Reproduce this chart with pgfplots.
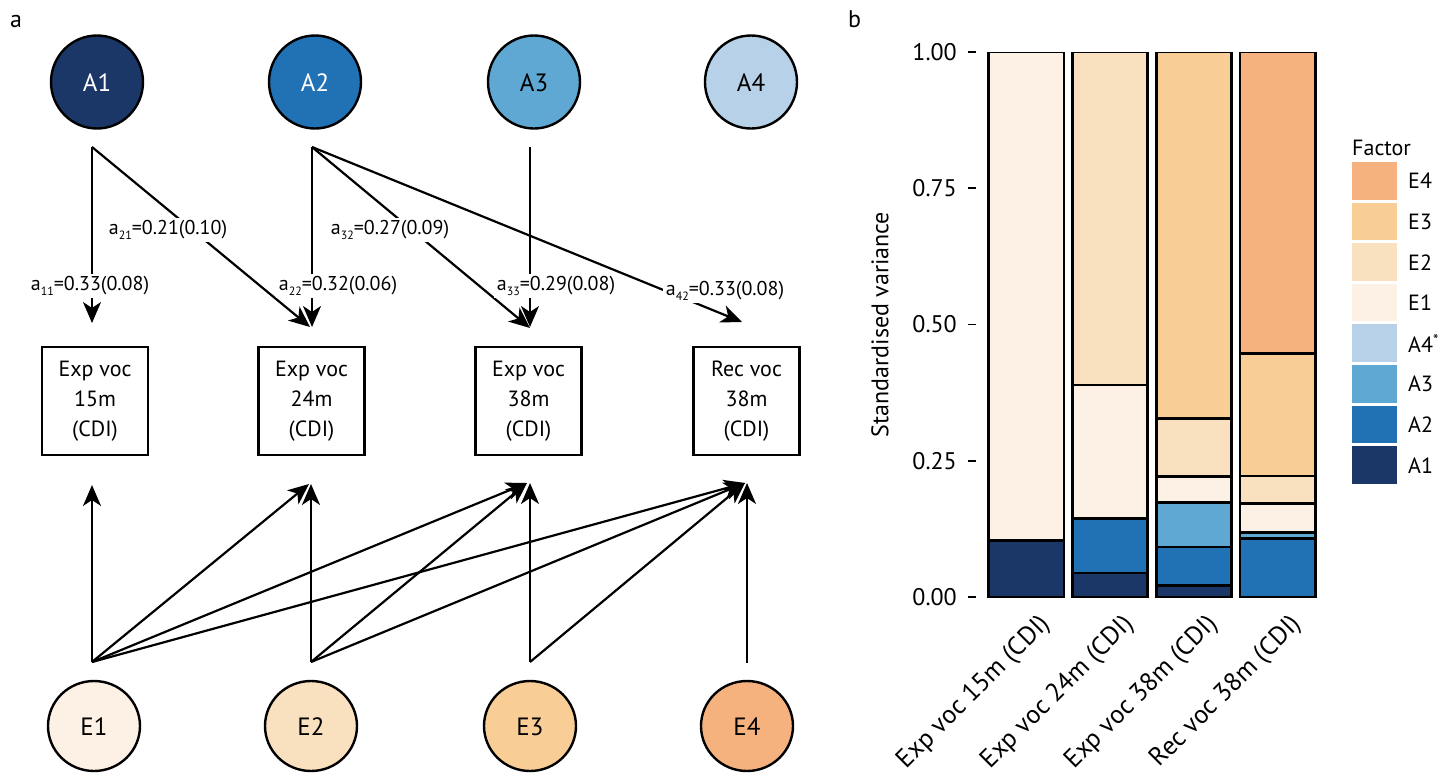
\documentclass[border=0pt]{standalone}
\usepackage{fontspec}
\setmainfont{PT Sans}
\usepackage{pgfplots}
\pgfplotsset{compat=1.18}
\usepackage{pgfplotstable}
\usetikzlibrary{arrows.meta}

\definecolor{cA1}{HTML}{1B3768}
\definecolor{cA2}{HTML}{2171B5}
\definecolor{cA3}{HTML}{5FA8D3}
\definecolor{cA4}{HTML}{B7D2E8}
\definecolor{cE1}{HTML}{FDF0E4}
\definecolor{cE2}{HTML}{F9E1BF}
\definecolor{cE3}{HTML}{F8CD96}
\definecolor{cE4}{HTML}{F5B27E}

\pgfplotstableread{
x A1 A2 A3 A4 E1 E2 E3 E4
0 0.104 0 0 0 0.896 0 0 0
1 0.044 0.100 0 0 0.245 0.611 0 0
2 0.021 0.071 0.081 0 0.048 0.107 0.672 0
3 0 0.107 0.011 0 0.054 0.050 0.225 0.553
}\datatable

\newcommand\sub[1]{\raisebox{-0.45ex}{\fontsize{12}{12}\selectfont#1}}

\begin{document}
\begin{tikzpicture}
\useasboundingbox (0,0) rectangle (1441pt,-772pt);
\begin{scope}[x=1pt,y=-1pt]
  % panel labels
  \node[anchor=base west, inner sep=0pt, font=\fontsize{24}{24}\selectfont] at (10,27) {a};
  \node[anchor=base west, inner sep=0pt, font=\fontsize{24}{24}\selectfont] at (848,27) {b};
  % top ellipses
  \foreach \cx/\col/\txt/\tc in {97/cA1/A1/white, 315/cA2/A2/white, 534/cA3/A3/black, 751/cA4/A4/black} {
    \draw[fill=\col, line width=2.4pt] (\cx,82) ellipse [x radius=46, y radius=46.5];
    \node[text=\tc, font=\fontsize{25}{25}\selectfont] at (\cx,83) {\txt};
  }
  % bottom ellipses
  \foreach \cx/\col/\txt in {94/cE1/E1, 311/cE2/E2, 530/cE3/E3, 747/cE4/E4} {
    \draw[fill=\col, line width=2.4pt] (\cx,726) ellipse [x radius=46, y radius=45];
    \node[font=\fontsize{25}{25}\selectfont] at (\cx,727) {\txt};
  }
  % boxes
  \foreach \cx/\a/\b in {95/Exp voc/15m, 311.5/Exp voc/24m, 528.5/Exp voc/38m, 746.5/Rec voc/38m} {
    \node[draw, line width=2.4pt, minimum width=106pt, minimum height=108pt, inner sep=0pt,
          align=center, font=\fontsize{22}{30}\selectfont] at (\cx,401) {\a\\\b\\(CDI)};
  }
  % top arrows
  \begin{scope}[line width=2.2pt, -{Stealth[length=21pt,width=18pt,inset=6pt]}]
    \draw (92,147) -- (92,323);
    \draw (92,147) -- (310,327);
    \draw (312,147) -- (312,327);
    \draw (312,147) -- (530,328);
    \draw (312,147) -- (742,322);
    \draw (530,147) -- (530,327);
  \end{scope}
  % bottom arrows
  \begin{scope}[line width=2.2pt, -{Stealth[length=21pt,width=18pt,inset=6pt]}]
    \draw (92,662) -- (92,485);
    \draw (92,662) -- (309,484);
    \draw (92,662) -- (527,483);
    \draw (92,662) -- (745,483);
    \draw (311,662) -- (311,484);
    \draw (311,662) -- (527,483);
    \draw (311,662) -- (745,483);
    \draw (530,662) -- (530,483);
    \draw (530,662) -- (745,483);
    \draw (747,663) -- (747,483);
  \end{scope}
  % path labels
  \begin{scope}[every node/.style={fill=white, inner sep=2.5pt, font=\fontsize{20}{20}\selectfont}]
    \node at (90,286) {a\sub{11}=0.33(0.08)};
    \node at (168,230) {a\sub{21}=0.21(0.10)};
    \node at (338,286) {a\sub{22}=0.32(0.06)};
    \node at (390,230) {a\sub{32}=0.27(0.09)};
    \node at (556,286) {a\sub{33}=0.29(0.08)};
    \node at (725,291) {a\sub{42}=0.33(0.08)};
  \end{scope}
\end{scope}

\begin{axis}[
  at={(976pt,-597pt)}, anchor=south west,
  scale only axis, width=352pt, height=545pt,
  xmin=-0.6, xmax=3.6, ymin=0, ymax=1, enlargelimits=false,
  ybar stacked, bar width=0.9,
  axis line style={draw=none},
  xtick={0,1,2,3},
  xticklabels={Exp voc 15m (CDI), Exp voc 24m (CDI), Exp voc 38m (CDI), Rec voc 38m (CDI)},
  xtick style={draw=none},
  ytick={0,0.25,0.5,0.75,1},
  yticklabels={0.00,0.25,0.50,0.75,1.00},
  ytick pos=left, tick align=outside, major tick length=8pt,
  ytick style={line width=1.8pt, black},
  /pgf/number format/assume math mode=true,
  yticklabel style={font=\fontsize{24}{24}\selectfont, inner sep=0pt, xshift=-11pt},
  xticklabel style={font=\fontsize{26}{26}\selectfont, rotate=45, anchor=north east, inner sep=0pt, yshift=-13pt, xshift=3pt},
  ylabel={Standardised variance},
  every axis y label/.style={at={(rel axis cs:-0.273,0.5)}, rotate=90, anchor=center, font=\fontsize{24}{24}\selectfont},
]
\addplot[fill=cA1, draw=black, line width=2.7pt] table[x=x, y=A1] {\datatable};
\addplot[fill=cA2, draw=black, line width=2.7pt] table[x=x, y=A2] {\datatable};
\addplot[fill=cA3, draw=black, line width=2.7pt] table[x=x, y=A3] {\datatable};
\addplot[fill=cA4, draw=black, line width=2.7pt] table[x=x, y=A4] {\datatable};
\addplot[fill=cE1, draw=black, line width=2.7pt] table[x=x, y=E1] {\datatable};
\addplot[fill=cE2, draw=black, line width=2.7pt] table[x=x, y=E2] {\datatable};
\addplot[fill=cE3, draw=black, line width=2.7pt] table[x=x, y=E3] {\datatable};
\addplot[fill=cE4, draw=black, line width=2.7pt] table[x=x, y=E4] {\datatable};
\end{axis}

\begin{scope}[x=1pt,y=-1pt]
  \node[anchor=base west, inner sep=0pt, font=\fontsize{22}{22}\selectfont] at (1352,155) {Factor};
  \foreach \c/\t [count=\i from 0] in {cE4/E4, cE3/E3, cE2/E2, cE1/E1, cA4/A4\textsuperscript{*}, cA3/A3, cA2/A2, cA1/A1} {
    \fill[\c] (1352,{162+40.6*\i}) rectangle ++(45,37.5);
    \node[anchor=west, inner sep=0pt, font=\fontsize{22}{22}\selectfont] at (1408,{181+40.6*\i}) {\t};
  }
\end{scope}
\end{tikzpicture}
\end{document}
